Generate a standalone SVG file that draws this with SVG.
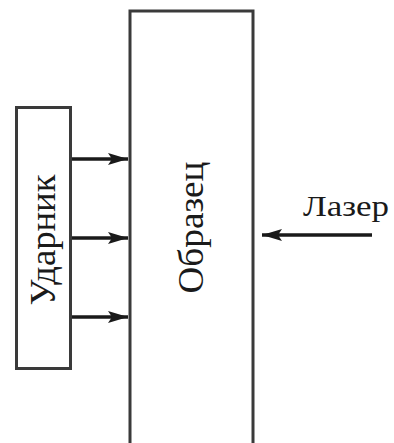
<svg xmlns="http://www.w3.org/2000/svg" width="394" height="443" viewBox="0 0 394 443">
<style>
.box{fill:#fff;stroke:#3a3a3a;stroke-width:3}
.lbl{font-family:'Liberation Serif','Times New Roman','DejaVu Serif',serif;fill:#1a1a1a}
.conn{stroke:#1a1a1a;stroke-width:3.5;fill:none}
</style>
<defs>
<marker id="ah" viewBox="0 0 20 12" refX="20" refY="6" markerWidth="20" markerHeight="12" markerUnits="userSpaceOnUse" orient="auto">
<path d="M0,0 L20,6 L0,12 L4,6 Z" fill="#1a1a1a"/>
</marker>
</defs>
<rect width="394" height="443" fill="#fff"/>
<g id="obrazets">
<rect class="box" x="130" y="11" width="123" height="445"/>
<text class="lbl" font-size="36" text-anchor="middle" textLength="132" lengthAdjust="spacingAndGlyphs" transform="translate(203,227.5) rotate(-90)">Образец</text>
</g>
<g id="udarnik">
<rect class="box" x="16.5" y="107.5" width="54" height="261"/>
<text class="lbl" font-size="36" text-anchor="middle" textLength="131" lengthAdjust="spacingAndGlyphs" transform="translate(55,240) rotate(-90)">Ударник</text>
</g>
<g id="lazer">
<text class="lbl" x="303" y="216" font-size="30" textLength="86" lengthAdjust="spacingAndGlyphs">Лазер</text>
</g>
<g id="connectors">
<line class="conn" x1="72" y1="159" x2="128" y2="159" marker-end="url(#ah)"/>
<line class="conn" x1="72" y1="238" x2="128" y2="238" marker-end="url(#ah)"/>
<line class="conn" x1="72" y1="317" x2="128" y2="317" marker-end="url(#ah)"/>
<line class="conn" x1="372" y1="235" x2="262" y2="235" marker-end="url(#ah)"/>
</g>
</svg>
